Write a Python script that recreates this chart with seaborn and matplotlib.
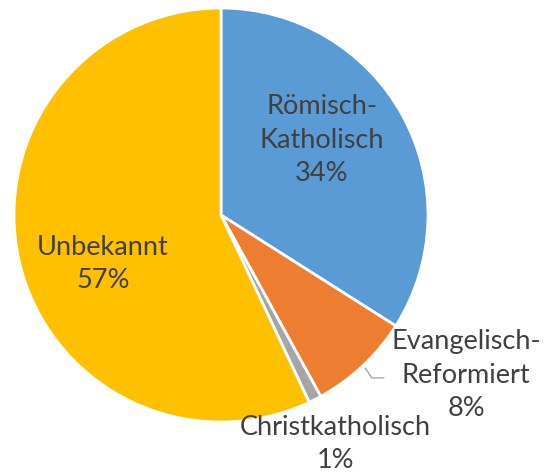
import matplotlib
matplotlib.use("Agg")
import matplotlib.pyplot as plt
import seaborn as sns

# data
categories = ["Römisch-\nKatholisch", "Evangelisch-\nReformiert", "Christkatholisch", "Unbekannt"]
shares = [34, 8, 1, 57]
colors = ["#5B9BD5", "#ED7D31", "#A5A5A5", "#FFC000"]

# label centres (pie radius units), as placed in the original chart
label_pos = [(0.488, 0.362), (1.184, -0.773), (0.551, -1.106), (-0.570, -0.237)]

sns.set_theme(style="white")
plt.rcParams['font.family'] = ['Lato', 'DejaVu Sans']

fig = plt.figure(figsize=(5.48, 4.75), dpi=100)
ax = fig.add_axes([14 / 548, 53 / 475, 414 / 548, 414 / 475])

ax.pie(shares, colors=colors, startangle=90, counterclock=False, radius=1,
       wedgeprops=dict(edgecolor="white", linewidth=2))

for name, val, (x, y) in zip(categories, shares, label_pos):
    ax.text(x, y, f"{name}\n{val}%", ha="center", va="center", fontsize=19.5,
            color="#404040", linespacing=1.42, clip_on=False)

# leader line for the small slices
ax.plot([0.696, 0.729, 0.787], [-0.739, -0.787, -0.787], color="#A6A6A6", lw=1, clip_on=False)

ax.set_xlim(-1, 1)
ax.set_ylim(-1, 1)
ax.set_aspect("equal")
ax.axis("off")

fig.savefig("out.png", dpi=100)
